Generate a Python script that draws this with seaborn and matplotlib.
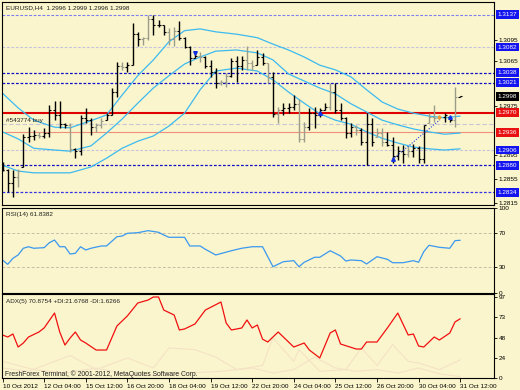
import numpy as np
import pandas as pd
import matplotlib
matplotlib.use("Agg")
import matplotlib.pyplot as plt
import seaborn as sns
from matplotlib import transforms

# ---------------- data ----------------
highs = [1.2885,1.2874,1.2872,1.2874,1.2934,1.2946,1.2940,1.2937,1.2943,1.2983,
         1.2989,1.2989,1.2952,1.2952,1.2909,1.2966,1.2977,1.2960,1.2952,1.2960,
         1.2969,1.3012,1.3057,1.3057,1.3057,1.3123,1.3108,1.3100,1.3137,1.3137,
         1.3128,1.3120,1.3114,1.3117,1.3126,1.3100,1.3083,1.3071,1.3074,1.3066,
         1.3060,1.3046,1.3026,1.3037,1.3063,1.3066,1.3066,1.3083,1.3060,1.3077,
         1.3071,1.3054,1.3040,1.2980,1.2986,1.2986,1.3000,1.2994,1.2954,1.2977,
         1.2980,1.2977,1.2986,1.3020,1.3020,1.2986,1.2963,1.2952,1.2949,1.2943,
         1.2969,1.2960,1.2943,1.2943,1.2937,1.2929,1.2912,1.2914,1.2912,1.2917,
         1.2912,1.2949,1.2969,1.2983,1.2966,1.2969,1.2963,1.3013,1.2999]
lows = [1.2870,1.2835,1.2826,1.2843,1.2877,1.2920,1.2923,1.2926,1.2926,1.2929,
        1.2957,1.2943,1.2943,1.2903,1.2892,1.2897,1.2952,1.2931,1.2937,1.2943,
        1.2957,1.2966,1.2997,1.3043,1.3040,1.3051,1.3083,1.3086,1.3094,1.3103,
        1.3117,1.3103,1.3086,1.3083,1.3094,1.3080,1.3051,1.3063,1.3057,1.3046,
        1.3031,1.3012,1.3017,1.3014,1.3031,1.3023,1.3043,1.3043,1.3043,1.3051,
        1.3051,1.3020,1.2963,1.2952,1.2966,1.2969,1.2974,1.2920,1.2920,1.2940,
        1.2943,1.2963,1.2974,1.2974,1.2969,1.2957,1.2926,1.2929,1.2931,1.2914,
        1.2880,1.2912,1.2929,1.2912,1.2912,1.2883,1.2889,1.2883,1.2894,1.2894,
        1.2883,1.2883,1.2952,1.2954,1.2957,1.2954,1.2954,1.2946,1.2996]
opens = [1.2880,1.2872,1.2850,1.2860,1.2877,1.2928,1.2930,1.2932,1.2930,1.2935,
         1.2975,1.2965,1.2950,1.2948,1.2908,1.2905,1.2960,1.2958,1.2945,1.2948,
         1.2957,1.2966,1.3005,1.3050,1.3048,1.3052,1.3105,1.3095,1.3098,1.3130,
         1.3120,1.3120,1.3108,1.3095,1.3110,1.3098,1.3082,1.3064,1.3066,1.3065,
         1.3050,1.3040,1.3020,1.3022,1.3032,1.3058,1.3050,1.3060,1.3055,1.3051,
         1.3065,1.3054,1.3030,1.2968,1.2975,1.2978,1.2980,1.2985,1.2925,1.2945,
         1.2970,1.2965,1.2974,1.2980,1.3005,1.2975,1.2960,1.2935,1.2945,1.2940,
         1.2920,1.2950,1.2929,1.2935,1.2920,1.2915,1.2895,1.2905,1.2900,1.2905,
         1.2910,1.2890,1.2952,1.2962,1.2960,1.2962,1.2963,1.2958,1.2996]
closes = [1.2872,1.2850,1.2860,1.2870,1.2928,1.2930,1.2932,1.2930,1.2935,1.2975,
          1.2965,1.2950,1.2948,1.2908,1.2905,1.2960,1.2958,1.2945,1.2948,1.2955,
          1.2965,1.3005,1.3050,1.3048,1.3052,1.3105,1.3095,1.3098,1.3130,1.3120,
          1.3120,1.3108,1.3095,1.3110,1.3098,1.3082,1.3064,1.3066,1.3065,1.3050,
          1.3040,1.3020,1.3022,1.3032,1.3058,1.3050,1.3060,1.3055,1.3050,1.3065,
          1.3055,1.3030,1.2968,1.2975,1.2978,1.2980,1.2985,1.2925,1.2945,1.2970,
          1.2965,1.2974,1.2980,1.3005,1.2975,1.2960,1.2935,1.2945,1.2940,1.2920,
          1.2950,1.2920,1.2935,1.2920,1.2915,1.2895,1.2905,1.2900,1.2905,1.2910,
          1.2890,1.2948,1.2962,1.2960,1.2962,1.2965,1.2958,1.2996,1.2998]
grey_bars = [3,7,13,18,19,23,27,28,32,33,38,42,43,47,48,51,53,57,58,63,68,72,73,78,82,83,84,87]

band_idx = [0,3,6,10,13,17,20,23,26,29,32,35,38,41,45,49,52,55,58,61,64,67,70,73,76,79,82,85,88]
band_upper = [1.3003,1.2978,1.2957,1.2945,1.2944,1.2956,1.2966,1.3000,1.3033,1.3060,
              1.3091,1.3110,1.3113,1.3108,1.3104,1.3098,1.3087,1.3077,1.3065,1.3051,
              1.3043,1.3031,1.3009,1.2988,1.2976,1.2969,1.2964,1.2961,1.2964]
band_mid = [1.2937,1.2925,1.2909,1.2906,1.2904,1.2913,1.2935,1.2959,1.2986,1.3012,
            1.3033,1.3053,1.3065,1.3075,1.3077,1.3072,1.3060,1.3036,1.3024,1.3012,
            1.3002,1.2985,1.2971,1.2957,1.2949,1.2942,1.2937,1.2933,1.2935]
band_lower = [1.2880,1.2870,1.2867,1.2867,1.2867,1.2877,1.2892,1.2909,1.2921,1.2930,
              1.2947,1.2969,1.3009,1.3041,1.3046,1.3041,1.3026,1.3005,1.2986,1.2968,
              1.2957,1.2950,1.2937,1.2926,1.2918,1.2911,1.2908,1.2906,1.2908]

level_prices = [1.3137, 1.3082, 1.3038, 1.3021, 1.2950, 1.2970, 1.2936, 1.2906, 1.2880, 1.2834]
boxed_prices = [1.3137, 1.3082, 1.3038, 1.3021, 1.2998, 1.2970, 1.2936, 1.2906, 1.2880, 1.2834]
boxed_kinds = ["blue", "blue", "blue", "blue", "black", "red", "red", "blue", "blue", "blue"]
price_tick_labels = ["1.3095", "1.3065", "1.2975", "1.2895", "1.2855", "1.2815"]

trade_bars = [37, 61, 75, 86]
trade_prices = [1.3071, 1.2969, 1.2890, 1.2962]
trade_dirs = ["v", "^", "^", "^"]
trade_link_bars = [75, 84]
trade_link_prices = [1.2890, 1.2957]

rsi_idx = [0,1,2,3,4,5,6,8,9,10,11,12,13,14,15,16,17,19,20,22,23,24,26,28,30,31,32,35,36,38,
           39,41,44,46,48,50,52,54,56,57,58,60,61,63,65,66,67,69,70,72,74,75,77,79,80,81,82,84,86,87,88]
rsi_val = [38.6,33.5,40.6,44.5,52.4,54.2,52.4,53.1,58.9,62.1,54.2,54.2,45.6,46.5,54.2,50.4,52.4,55.1,55.1,66.0,
           66.8,70.0,70.7,73.1,71.2,68.0,65.3,65.3,55.1,55.1,51.2,44.5,49.5,52.4,54.2,54.2,30.7,36.6,37.8,30.7,
           35.9,41.8,41.8,49.5,43.3,37.4,38.6,37.8,33.9,42.5,39.4,35.4,35.4,37.8,35.9,48.4,55.9,53.5,52.4,61.3,61.8]

adx_idx = [0,1,2,3,4,5,7,8,10,11,12,13,14,15,16,18,20,22,24,26,28,29,30,31,33,34,35,37,39,42,
           43,44,46,47,48,49,50,51,53,56,58,59,61,63,64,65,68,69,70,72,74,76,78,79,80,81,83,84,86,87,88]
adx_val = [51.5,49.1,52.7,37.1,41.9,49.1,55.1,59.9,77.8,55.1,39.5,47.9,55.1,45.5,41.9,33.5,33.5,62.3,74.3,89.8,
           93.4,97.0,97.0,81.4,75.4,57.5,58.7,64.7,81.4,91.0,65.9,57.5,59.9,69.5,59.9,63.5,46.5,43.1,55.1,37.1,
           41.9,33.5,24.0,53.9,57.5,40.7,34.7,34.7,43.1,43.1,59.9,77.8,51.5,52.7,38.3,37.1,49.1,45.5,53.9,67.1,70.9]
pdi_idx = [0,5,13,18,24,29,32,37,41,45,50,52,56,57,61,66,69,72,75,78,80,84,88]
pdi_val = [12,8,27,10,24,12,36,34,25,10,15,48,20,34,8,10,36,15,40,20,18,10,21.7]
mdi_idx = [0,6,12,18,24,30,36,42,48,52,56,60,64,68,72,76,80,84,88]
mdi_val = [20,10,6,12,4,3,6,8,12,6,10,25,12,8,10,6,12,5,1.6]

x_label_bars = [0,8,16,24,32,40,48,56,64,72,80,88]
x_labels = ["10 Oct 2012","12 Oct 04:00","15 Oct 12:00","16 Oct 20:00","18 Oct 04:00","19 Oct 12:00",
            "22 Oct 20:00","24 Oct 04:00","25 Oct 12:00","26 Oct 20:00","30 Oct 04:00","31 Oct 12:00"]

title = "EURUSD,H4  1.2996 1.2999 1.2996 1.2998"
order_label = "#543774 buy"
rsi_label = "RSI(14) 61.8382"
adx_label = "ADX(5) 70.8754 +DI:21.6768 -DI:1.6266"
footer = "FreshForex Terminal, \u00a9 2001-2012, MetaQuotes Software Corp."

# ---------------- style ----------------
sns.set_theme(style="white")
plt.rcParams["font.family"] = ["Liberation Sans", "DejaVu Sans"]
BG = "#FAF5CC"
FS = 4.6
BAND = "#3DBAF0"

W, H = 520, 390
fig = plt.figure(figsize=(5.2, 3.9), dpi=100, facecolor=BG)

def ax_at(x0, y0, x1, y1):
    a = fig.add_axes([x0 / W, 1 - y1 / H, (x1 - x0) / W, (y1 - y0) / H], facecolor=BG)
    for s in a.spines.values():
        s.set_visible(True)
        s.set_color("black")
        s.set_linewidth(0.8)
    a.grid(False)
    a.set_xlim(-0.1, 94.5)
    return a

ax = ax_at(2, 2, 494, 205)
axr = ax_at(2, 207.8, 494, 292.8)
axa = ax_at(2, 294, 494, 378)

# ---------------- main price panel ----------------
bars = np.arange(len(highs))
bar_cols = ["#9C9C8A" if i in grey_bars else "#000000" for i in bars]
ax.vlines(bars, lows, highs, colors=bar_cols, lw=1.0, zorder=3)
ax.hlines(opens, bars - 0.38, bars, colors=bar_cols, lw=0.8, zorder=3)
ax.hlines(closes, bars, bars + 0.38, colors=bar_cols, lw=0.8, zorder=3)

bands = pd.DataFrame({"bar": band_idx, "upper": band_upper, "mid": band_mid, "lower": band_lower})
for col in ["upper", "mid", "lower"]:
    sns.lineplot(data=bands, x="bar", y=col, ax=ax, color=BAND, lw=0.9, legend=False, zorder=2)

level_styles = [
    ("#7C7CF4", 0.8, (0, (2.5, 1.5))),
    ("#C4C4DC", 0.8, (0, (2.5, 1.5))),
    ("#1010C8", 0.9, (0, (2.2, 1.4))),
    ("#1010C8", 0.9, (0, (2.2, 1.4))),
    ("#C8C8D4", 0.8, (0, (4, 2))),
    ("#E00000", 1.5, "-"),
    ("#F0907C", 0.8, "-"),
    ("#C4C4DC", 0.8, (0, (2.5, 1.5))),
    ("#1010C8", 0.9, (0, (2.2, 1.4))),
    ("#3434E8", 0.9, (0, (2.2, 1.4))),
]
for lvl, (c, lw, ls) in zip(level_prices, level_styles):
    ax.axhline(lvl, color=c, lw=lw, ls=ls, zorder=1)

for b, p, m in zip(trade_bars, trade_prices, trade_dirs):
    ax.plot([b], [p], marker=m, color="#1030E0", ms=2.6, zorder=4)
ax.plot([84], [1.2962], marker="s", color="#F0A030", ms=1.8, zorder=4)
ax.plot(trade_link_bars, trade_link_prices, color="#2040E0", lw=0.8, ls=(0, (1, 1.5)), zorder=4)

ax.set_ylim(1.2812, 1.3159)
ax.set_xticks([])
ax.yaxis.tick_right()
# label anchors (MT4 draws scale labels a little off their level)
price_tick_pos = [1.3094, 1.3058, 1.2981, 1.2897, 1.2857, 1.2815]
ax.set_yticks(price_tick_pos)
ax.set_yticklabels(price_tick_labels)
ax.tick_params(axis="y", which="both", right=True, left=False, labelright=True, labelleft=False,
               labelsize=FS, length=2, width=0.6, pad=1.2, colors="black")
ax.set_xlabel("")
ax.set_ylabel("")

trans = transforms.blended_transform_factory(ax.transAxes, ax.transData)
box_colors = {"blue": "#1414F0", "black": "#000000", "red": "#E81010"}
for p, k in zip(boxed_prices, boxed_kinds):
    ax.text(1 + 3.5 / 492, p, f"{p:.4f}", transform=trans, fontsize=FS, color="white",
            ha="left", va="center", clip_on=False, zorder=6,
            bbox=dict(boxstyle="square,pad=0.3", fc=box_colors[k], ec="none"))

ax.annotate(title, xy=(0, 1), xycoords="axes fraction", xytext=(4, -6), textcoords="offset pixels",
            ha="left", va="center", fontsize=FS, color="#202020")
ax.annotate(order_label, xy=(0, 1.2956), xycoords=trans, xytext=(4, 0), textcoords="offset pixels",
            ha="left", va="center", fontsize=FS, color="#202020")

# ---------------- RSI panel ----------------
rsi = pd.DataFrame({"bar": rsi_idx, "rsi": rsi_val})
sns.lineplot(data=rsi, x="bar", y="rsi", ax=axr, color="#3A98F0", lw=0.9, legend=False)
for lv in [70, 30]:
    axr.axhline(lv, color="#C6BEA6", lw=0.7, ls=(0, (3, 2)), zorder=1)
axr.set_ylim(0, 100)
axr.set_xticks([])
axr.yaxis.tick_right()
axr.set_yticks([0, 30, 70, 100])
axr.tick_params(axis="y", which="both", right=True, left=False, labelright=True, labelleft=False,
                labelsize=FS, length=2, width=0.6, pad=1.2, colors="black")
axr.set_xlabel("")
axr.set_ylabel("")
axr.annotate(rsi_label, xy=(0, 1), xycoords="axes fraction", xytext=(4, -7), textcoords="offset pixels",
             ha="left", va="center", fontsize=FS, color="#202020")

# ---------------- ADX panel ----------------
pdi = pd.DataFrame({"bar": pdi_idx, "v": pdi_val})
mdi = pd.DataFrame({"bar": mdi_idx, "v": mdi_val})
adx = pd.DataFrame({"bar": adx_idx, "v": adx_val})
sns.lineplot(data=pdi, x="bar", y="v", ax=axa, color="#F5E2C6", lw=0.8, legend=False)
sns.lineplot(data=mdi, x="bar", y="v", ax=axa, color="#F5E2C6", lw=0.8, legend=False)
sns.lineplot(data=adx, x="bar", y="v", ax=axa, color="#F01010", lw=0.9, legend=False)
axa.set_ylim(0, 100.6)
axa.yaxis.tick_right()
axa.set_yticks([0, 24, 48, 73, 97])
axa.tick_params(axis="y", which="both", right=True, left=False, labelright=True, labelleft=False,
                labelsize=FS, length=2, width=0.6, pad=1.2, colors="black")
axa.set_xticks(x_label_bars)
axa.set_xticklabels(x_labels)
axa.tick_params(axis="x", which="both", bottom=True, labelbottom=True, labelsize=FS,
                length=3, width=0.6, pad=1, colors="black")
for t in axa.get_xticklabels():
    t.set_horizontalalignment("left")
axa.set_xlabel("")
axa.set_ylabel("")
axa.annotate(adx_label, xy=(0, 1), xycoords="axes fraction", xytext=(4, -7), textcoords="offset pixels",
             ha="left", va="center", fontsize=FS, color="#202020")
axa.annotate(footer, xy=(0, 0), xycoords="axes fraction", xytext=(3, 4), textcoords="offset pixels",
             ha="left", va="center", fontsize=FS + 0.3, color="#202020")

fig.savefig("out.png", dpi=100, facecolor=BG)
